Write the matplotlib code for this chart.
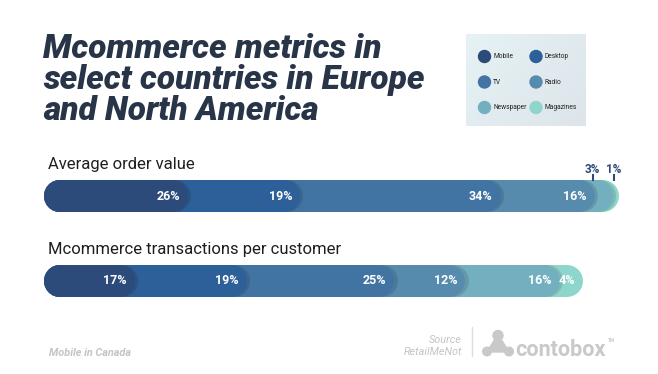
import numpy as np
import matplotlib.pyplot as plt
import matplotlib.patheffects as pe
import matplotlib.transforms as mtransforms
from matplotlib.patches import Circle, Polygon
from matplotlib.colors import LinearSegmentedColormap

# данные
channels = ["Mobile", "Desktop", "TV", "Radio", "Newspaper", "Magazines"]
colors = ["#2c4a7a", "#2d5f99", "#4274a3", "#568bae", "#74afbf", "#8ed5cc"]
metrics = ["Average order value", "Mcommerce transactions per customer"]
aov = [26, 19, 34, 16, 3, 1]
tpc = [17, 19, 25, 12, 16, 4]
series = [aov, tpc]

title_lines = ["Mcommerce metrics in", "select countries in Europe", "and North America"]
navy = "#283447"

W, H = 658, 374
fig = plt.figure(figsize=(W / 100, H / 100), dpi=100)
fig.patch.set_facecolor("white")

# фон в пиксельных координатах для текста, легенды и логотипа
bg = fig.add_axes([0, 0, 1, 1])
bg.axis("off")

# заголовок
for line, yb in zip(title_lines, [58, 89, 120]):
    bg.text(43, yb, line, fontsize=24, fontweight="heavy", fontstyle="italic",
            family="Roboto", color=navy, va="baseline", ha="left")

# легенда
grad = np.linspace(0, 1, 50)[None, :] + np.linspace(0, 0.6, 50)[:, None]
bg.imshow(grad, extent=(466, 586, 126, 34), aspect="auto", zorder=0,
          cmap=LinearSegmentedColormap.from_list("g", ["#e6f2f5", "#dde5ea"]))
bg.set_xlim(0, W)
bg.set_ylim(H, 0)
for i, (name, c) in enumerate(zip(channels, colors)):
    cx = 484.5 + (i % 2) * 51.5
    cy = 56.5 + (i // 2) * 25.5
    bg.add_patch(Circle((cx, cy), 6, color=c, zorder=2))
    bg.text(cx + 8.5, cy, name, fontsize=4.8, family="Roboto", color="#222222",
            va="center", ha="left", zorder=3)

# подписи метрик
for name, yb in zip(metrics, [169, 254]):
    bg.text(48, yb, name, fontsize=12, family="Roboto",
            color="#1e1e1e", va="baseline", ha="left")

# полосы
ax = fig.add_axes([18.5 / W, 0, 590 / W, 1])
ax.set_xlim(0, 100)
ax.set_ylim(H, 0)
ax.axis("off")
ax.patch.set_alpha(0)

bar_y = [196, 281]
lw = 32 * 72 / 100
x_start = 7.0
for vals, yc in zip(series, bar_y):
    cum = np.cumsum(vals)
    n = len(vals)
    for k in range(n - 1, -1, -1):
        effects = [pe.Normal()]
        if k < n - 1:
            effects = [pe.SimpleLineShadow(offset=(2.5, 0), shadow_color="k", alpha=0.12),
                       pe.Normal()]
        ax.plot([x_start, cum[k]], [yc, yc], color=colors[k], lw=lw,
                solid_capstyle="round", zorder=2 + (n - k), clip_on=False,
                path_effects=effects)
    offs = iter([-4, 11])
    for k, v in enumerate(vals):
        if v < 4:
            tr = mtransforms.offset_copy(ax.transData, fig=fig, x=next(offs), y=0, units="dots")
            ax.plot([cum[k], cum[k]], [yc - 16, yc - 21], color="#2c4a7a", lw=1.5,
                    transform=tr, clip_on=False, zorder=20)
            ax.text(cum[k], yc - 23.5, f"{v}%", transform=tr, ha="center", va="baseline",
                    fontsize=8.5, fontweight="bold", family="Roboto", color="#2c4a7a",
                    zorder=20)
        else:
            tr = mtransforms.offset_copy(ax.transData, fig=fig, x=8, y=0, units="dots")
            ax.text(cum[k], yc, f"{v}%", transform=tr, ha="right", va="center",
                    fontsize=9, fontweight="bold", family="Roboto", color="white",
                    zorder=20)

# подвал
grey = "#c4c4c4"
bg.text(49, 356, "Mobile in Canada", fontsize=7.8, fontweight="bold", fontstyle="italic",
        family="Roboto", color=grey, va="baseline")
bg.text(462, 343, "Source", fontsize=7.8, fontstyle="italic", family="Roboto",
        color=grey, ha="right", va="baseline")
bg.text(462, 355, "RetailMeNot", fontsize=7.8, fontstyle="italic", family="Roboto",
        color=grey, ha="right", va="baseline")
bg.plot([472, 472], [327, 356], color="#dddddd", lw=1)

# логотип
logo = "#c9c9c9"
bg.add_patch(Polygon([(495, 339), (501, 339), (509, 352), (487, 352)], closed=True, color=logo))
bg.add_patch(Circle((498, 335.5), 5, color=logo))
bg.add_patch(Circle((487, 351.5), 4.3, color=logo))
bg.add_patch(Circle((509, 351.5), 4.3, color=logo))
bg.text(515, 355.5, "contobox", fontsize=15.5, fontweight="bold", family="Roboto",
        color=logo, va="baseline", ha="left")
bg.text(608, 342, "TM", fontsize=3.5, fontweight="bold", family="Roboto",
        color=logo, va="baseline", ha="left")

fig.savefig("out.png", dpi=100, facecolor="white")
